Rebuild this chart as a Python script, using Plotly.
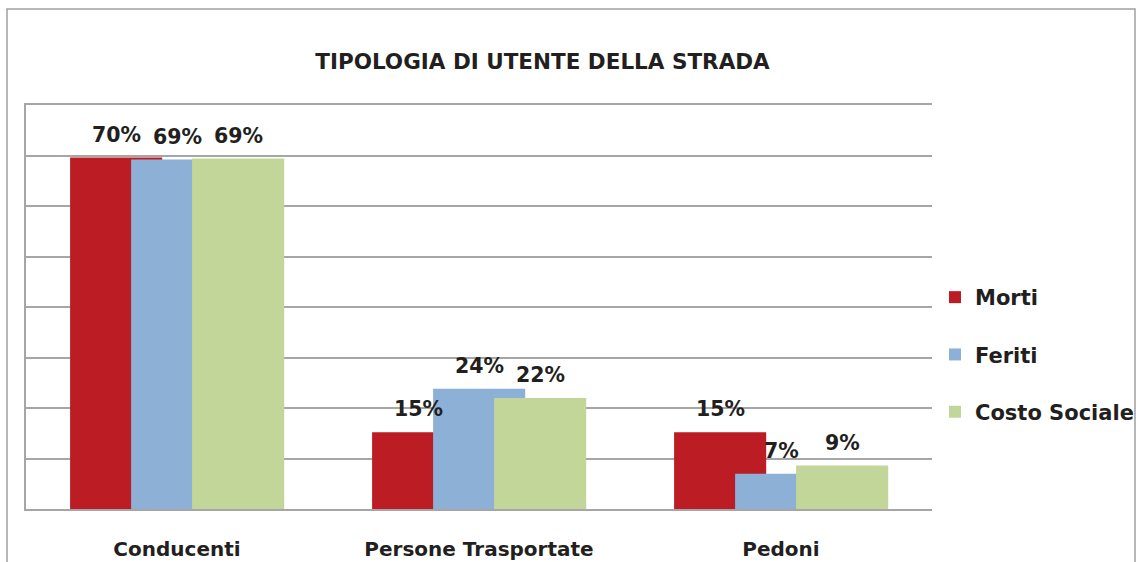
import plotly.graph_objects as go

categories = ["Conducenti", "Persone Trasportate", "Pedoni"]
series_names = ["Morti", "Feriti", "Costo Sociale"]
morti = [69.6, 15.2, 15.2]
feriti = [69.2, 23.8, 7.0]
costo_sociale = [69.4, 22.0, 8.6]
y_ticks = [0, 10, 20, 30, 40, 50, 60, 70, 80]

values = [morti, feriti, costo_sociale]
colors = ["#BC1C23", "#8DB0D6", "#C3D69A"]
offsets = [-0.354, -0.152, 0.050]
bar_width = 0.305

FONT = "DejaVu Sans"
TXT = "#231F20"
GRID = "#A6A6A6"

# plot area in pixels
W, H = 1142, 562
L, R, T, B = 26, 932, 105, 509
cat_px = (R - L) / 3.0

fig = go.Figure()
for name, vals, col, off in zip(series_names, values, colors, offsets):
    fig.add_trace(go.Bar(
        x=categories, y=vals, name=name,
        marker=dict(color=col, line=dict(width=0)),
        offset=off, width=bar_width,
        legendgroup=name,
        hoverinfo="skip",
    ))
    for c, v in zip(categories, vals):
        fig.add_annotation(
            x=c, y=v, xref="x", yref="y",
            text=f"{v:.0f}%", showarrow=False,
            xshift=(off + bar_width / 2) * cat_px,
            yanchor="bottom", yshift=9,
            font=dict(family=FONT, size=20.5, color=TXT, weight="bold"),
        )

# outer chart border
fig.add_shape(
    type="rect", xref="paper", yref="paper",
    x0=(7 - L) / (R - L), x1=(1135 - L) / (R - L),
    y0=(B - 600) / (B - T), y1=(B - 9) / (B - T),
    line=dict(color="#A0A0A0", width=1.5), fillcolor="rgba(0,0,0,0)",
    layer="below",
)

fig.update_layout(
    width=W, height=H,
    margin=dict(l=L, r=W - R, t=T, b=H - B, pad=0, autoexpand=False),
    paper_bgcolor="white", plot_bgcolor="white",
    barmode="overlay",
    title=dict(
        text="TIPOLOGIA DI UTENTE DELLA STRADA",
        x=542.5 / W, xref="container", xanchor="center",
        y=1 - 61 / H, yref="container", yanchor="middle",
        font=dict(family=FONT, size=21.5, color=TXT, weight="bold"),
    ),
    xaxis=dict(
        type="category", range=[-0.5, 2.5], automargin=False,
        showgrid=False, zeroline=False,
        showline=True, mirror=True, linecolor=GRID, linewidth=2,
        ticks="", ticklabelstandoff=21,
        tickfont=dict(family=FONT, size=20, color=TXT, weight="bold"),
    ),
    yaxis=dict(
        range=[0, 80], tickvals=y_ticks, showticklabels=False, automargin=False,
        showgrid=True, gridcolor=GRID, gridwidth=2,
        zeroline=False, showline=True, linecolor=GRID, linewidth=2,
        ticks="",
    ),
    legend=dict(
        x=(935 - L) / (R - L), xanchor="left",
        y=(B - 277) / (B - T), yanchor="top",
        font=dict(family=FONT, size=21, color=TXT, weight="bold"),
        traceorder="grouped", tracegroupgap=27,
        bgcolor="rgba(0,0,0,0)",
    ),
    showlegend=True,
)

fig.write_html(
    "out.html",
    config={"displayModeBar": False},
    post_script="document.body.style.margin='0';document.body.style.padding='0';",
)
